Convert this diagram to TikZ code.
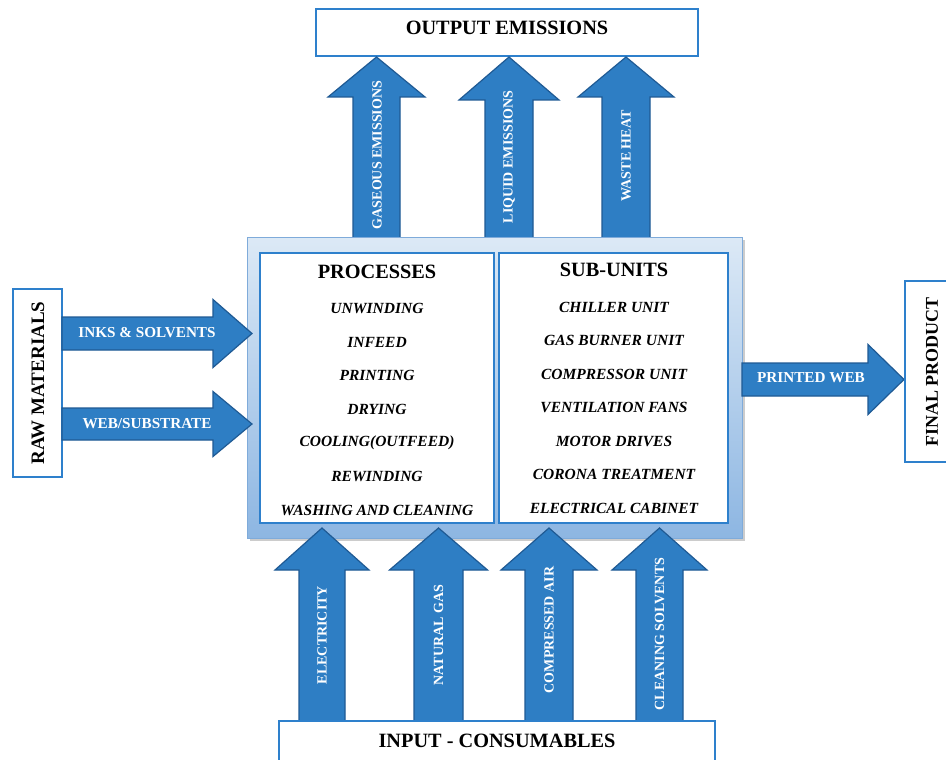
\documentclass[tikz,border=0pt]{standalone}
\usepackage{fontspec}
\setmainfont{Liberation Serif}
\usetikzlibrary{shadows}
\definecolor{arrfill}{HTML}{2E7EC4}
\definecolor{arrline}{HTML}{1F5A94}
\definecolor{boxline}{HTML}{2E80CC}
\definecolor{outtop}{HTML}{DCE9F6}
\definecolor{outbot}{HTML}{8DB6E2}
\definecolor{outline}{HTML}{7FABDA}
\newcommand{\ArrUp}[7]{% cx, shaft half, head half, tip y, head base y, bottom y, name
  \fill[arrfill,draw=arrline,line width=1.2pt,line join=miter]
    (#1-#2,#6) -- (#1-#2,#5) -- (#1-#3,#5) -- (#1,#4) -- (#1+#3,#5) -- (#1+#2,#5) -- (#1+#2,#6) -- cycle;
  \coordinate (#7) at (#1,#4);}
\newcommand{\ArrRight}[7]{% cy, shaft half, head half, tip x, head base x, start x, name
  \fill[arrfill,draw=arrline,line width=1.2pt,line join=miter]
    (#6,#1-#2) -- (#5,#1-#2) -- (#5,#1-#3) -- (#4,#1) -- (#5,#1+#3) -- (#5,#1+#2) -- (#6,#1+#2) -- cycle;
  \coordinate (#7) at (#4,#1);}
\tikzset{
  plainbox/.style={draw=boxline,line width=2.6pt,fill=white},
  arrlabel/.style={text=white,font=\bfseries\fontsize{14}{16}\selectfont,inner sep=0pt},
  harrlabel/.style={text=white,font=\bfseries\fontsize{15.2}{17}\selectfont,inner sep=0pt},
  itemtext/.style={font=\bfseries\itshape\fontsize{15.5}{18}\selectfont,inner sep=0pt},
  headtext/.style={font=\bfseries\fontsize{20.3}{23}\selectfont,inner sep=0pt},
}
\begin{document}
\begin{tikzpicture}[x=1pt,y=-1pt]
\useasboundingbox (0,0) rectangle (946,760);
\fill[white] (0,0) rectangle (946,760);
% top box
\draw[plainbox] (316,9) rectangle (698,56);
\node[headtext] (out) at (507,28) {OUTPUT EMISSIONS};
% top arrows
\ArrUp{376.5}{23.5}{48.5}{57}{97}{238}{ga}
\ArrUp{509}{24}{50}{57}{100}{238}{la}
\ArrUp{626}{24}{48}{57}{97}{238}{wa}
\node[arrlabel,rotate=90] (gas) at (377,155) {GASEOUS EMISSIONS};
\node[arrlabel,rotate=90] (liq) at (509,157) {LIQUID EMISSIONS};
\node[arrlabel,rotate=90] (wh) at (626,156) {WASTE HEAT};
% outer box
\path[top color=outtop,bottom color=outbot,draw=outline,line width=1pt,
  drop shadow={opacity=0.4,shadow xshift=2.5pt,shadow yshift=-2.5pt}] (247,237) rectangle (742,538);
% inner boxes
\draw[plainbox] (260,253) rectangle (494,523);
\draw[plainbox] (499,253) rectangle (728,523);
\node[headtext] (proc) at (377,272) {PROCESSES};
\node[headtext] (sub) at (614,270) {SUB-UNITS};
\foreach \t [count=\i] in {UNWINDING,INFEED,PRINTING,DRYING,COOLING(OUTFEED),REWINDING,WASHING AND CLEANING}
  \node[itemtext] (p\i) at (377,308.5+33.6*\i-33.6) {\t};
\foreach \t [count=\i] in {CHILLER UNIT,GAS BURNER UNIT,COMPRESSOR UNIT,VENTILATION FANS,MOTOR DRIVES,CORONA TREATMENT,ELECTRICAL CABINET}
  \node[itemtext] (s\i) at (614,307+33.5*\i-33.5) {\t};
% raw materials
\draw[plainbox] (13,289) rectangle (62,477);
\node[headtext,font=\bfseries\fontsize{19}{22}\selectfont,rotate=90] (raw) at (38,383) {RAW MATERIALS};
\ArrRight{333.5}{16.5}{34}{252}{213}{62}{ia}
\ArrRight{424}{16}{32.5}{252}{213}{62}{wb}
\node[harrlabel] (inks) at (147,333) {INKS \& SOLVENTS};
\node[harrlabel] (web) at (147,424) {WEB/SUBSTRATE};
% final product
\ArrRight{379.5}{16.5}{35}{904}{868}{742}{pa}
\node[harrlabel] (pw) at (811,378) {PRINTED WEB};
\draw[plainbox] (905,281) rectangle (962,462);
\node[headtext,font=\bfseries\fontsize{18}{21}\selectfont,rotate=90] (fin) at (932,372) {FINAL PRODUCT};
% bottom arrows
\ArrUp{322}{23}{47}{528}{570}{721}{ea}
\ArrUp{438.5}{24.5}{49}{528}{570}{721}{na}
\ArrUp{549}{24}{48}{528}{570}{721}{ca}
\ArrUp{659.5}{23.5}{47.5}{528}{570}{721}{cs}
\node[arrlabel,rotate=90] (el) at (322,635) {ELECTRICITY};
\node[arrlabel,rotate=90] (ng) at (438.5,635) {NATURAL GAS};
\node[arrlabel,rotate=90] (cair) at (549,630) {COMPRESSED AIR};
\node[arrlabel,rotate=90] (csol) at (659.5,634) {CLEANING SOLVENTS};
\draw[plainbox] (279,721) rectangle (715,775);
\node[headtext] (inp) at (497,741) {INPUT - CONSUMABLES};
\end{tikzpicture}
\end{document}
